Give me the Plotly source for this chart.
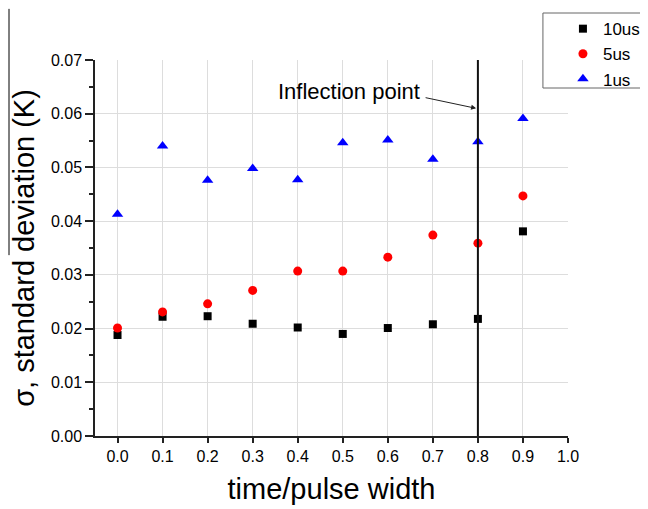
import plotly.graph_objects as go

x_vals = [0.0, 0.1, 0.2, 0.3, 0.4, 0.5, 0.6, 0.7, 0.8, 0.9]
sd_10us = [0.0188, 0.0222, 0.0223, 0.0209, 0.0202, 0.0190, 0.0201, 0.0208, 0.0218, 0.0381]
sd_5us = [0.0201, 0.0231, 0.0246, 0.0271, 0.0307, 0.0307, 0.0333, 0.0374, 0.0359, 0.0447]
sd_1us = [0.0413, 0.0540, 0.0476, 0.0498, 0.0477, 0.0546, 0.0551, 0.0515, 0.0548, 0.0591]
x_ticks = [0.0, 0.1, 0.2, 0.3, 0.4, 0.5, 0.6, 0.7, 0.8, 0.9, 1.0]
x_ticktext = ["0.0", "0.1", "0.2", "0.3", "0.4", "0.5", "0.6", "0.7", "0.8", "0.9", "1.0"]
inflection_x = 0.8

FONT = "Arial, Liberation Sans, sans-serif"

fig = go.Figure()
fig.add_trace(go.Scatter(x=x_vals, y=sd_10us, mode="markers", name="10us",
                         marker=dict(symbol="square", size=8, color="black")))
fig.add_trace(go.Scatter(x=x_vals, y=sd_5us, mode="markers", name="5us",
                         marker=dict(symbol="circle", size=9, color="#ff0000")))
fig.add_trace(go.Scatter(x=x_vals, y=sd_1us, mode="markers", name="1us",
                         marker=dict(symbol="triangle-up", size=10, color="#0000ff")))

fig.update_layout(
    width=640, height=501,
    margin=dict(l=87, r=80, t=52, b=73, autoexpand=False),
    paper_bgcolor="white", plot_bgcolor="white",
    font=dict(family=FONT, color="black"),
    showlegend=True,
    legend=dict(x=0.9893, y=1.13, xanchor="left", yanchor="top",
                bgcolor="rgba(0,0,0,0)", borderwidth=0, itemwidth=30,
                font=dict(size=17, family=FONT), tracegroupgap=0),
    xaxis=dict(range=[-0.05, 1.0], tickvals=x_ticks, ticktext=x_ticktext,
               showgrid=True, gridcolor="#dddddd", gridwidth=1,
               showline=True, linecolor="#222222", linewidth=1.5,
               ticks="outside", ticklen=5, tickcolor="#222222", tickwidth=1.5,
               tickfont=dict(size=16, family=FONT),
               zeroline=False, automargin=False,
               title=dict(text="time/pulse width", font=dict(size=29, family=FONT), standoff=15)),
    yaxis=dict(range=[0, 0.07], dtick=0.01, tickformat=".2f",
               showgrid=True, gridcolor="#dddddd", gridwidth=1,
               showline=True, linecolor="#222222", linewidth=1.5,
               ticks="outside", ticklen=8, tickcolor="#222222", tickwidth=1.5,
               minor=dict(ticks="outside", ticklen=4, dtick=0.005, tickcolor="#222222", showgrid=False),
               tickfont=dict(size=16, family=FONT),
               zeroline=False, automargin=False,
               title=dict(text="σ, standard deviation (K)", font=dict(size=29, family=FONT), standoff=9)),
)

fig.add_shape(type="line", xref="x", yref="y", x0=inflection_x, x1=inflection_x, y0=0, y1=0.07,
              line=dict(color="#111111", width=2))
# legend box
fig.add_shape(type="rect", xref="paper", yref="paper", x0=0.947, x1=1.167, y0=0.9255, y1=1.125,
              line=dict(color="#666666", width=1), fillcolor="rgba(0,0,0,0)")
# stray line at top-left
fig.add_shape(type="line", xref="paper", yref="paper", x0=-0.1818, x1=-0.1818, y0=0.481, y1=1.136,
              line=dict(color="black", width=1))

fig.add_annotation(x=0.514, y=0.0641, xref="x", yref="y", text="Inflection point",
                   showarrow=False, font=dict(size=22, family=FONT, color="black"),
                   xanchor="center", yanchor="middle")
fig.add_annotation(x=0.796, y=0.0610, xref="x", yref="y", text="", showarrow=True,
                   ax=-52, ay=-11, arrowhead=2, arrowsize=1, arrowwidth=1, arrowcolor="#222222")

fig.write_html("out.html")
